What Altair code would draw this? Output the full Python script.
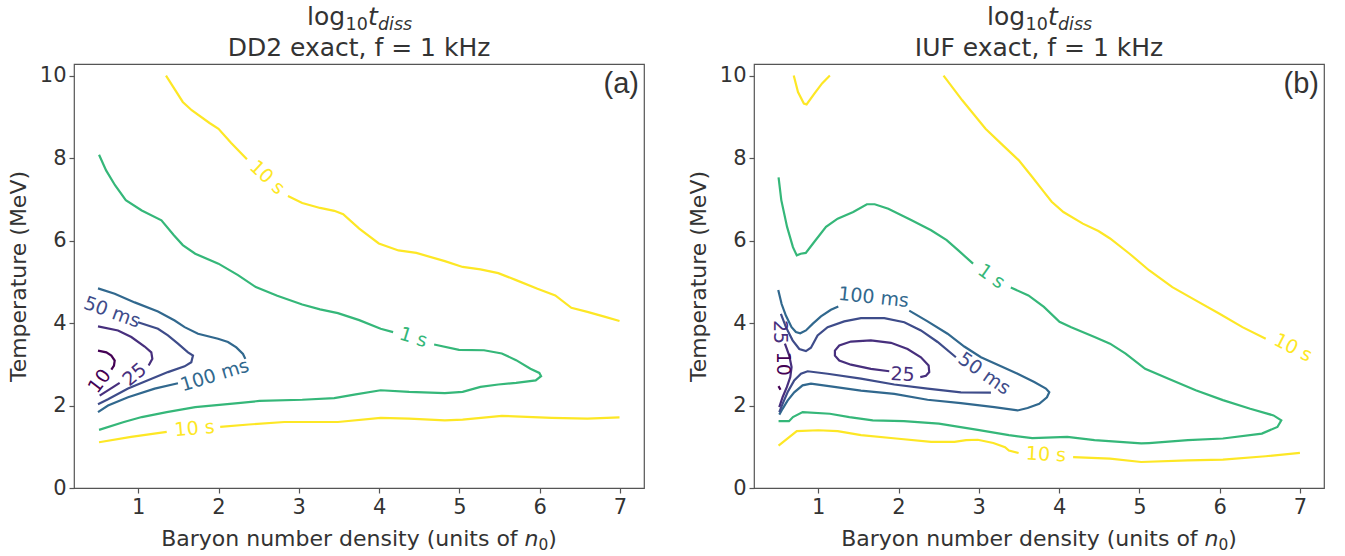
import altair as alt
import pandas as pd

# ---------------- data ----------------
# level name -> colour (viridis over log10 t from -2 to 1)
LEVEL_COLORS = {"10": "#440154", "25": "#472f7d", "50": "#3e4c8a",
                "100": "#31688e", "1s": "#35b779", "10s": "#fde725"}

# ---- panel (a): DD2 ----
a_10s_up1_x = [1.346, 1.555, 1.666, 1.888, 2.0, 2.155, 2.354]
a_10s_up1_y = [10.0, 9.36, 9.16, 8.85, 8.71, 8.37, 7.97]
a_10s_up2_x = [2.865, 3.043, 3.265, 3.442, 3.553, 3.753, 3.997, 4.242, 4.464, 4.819, 5.041,
               5.263, 5.485, 5.707, 5.973, 6.195, 6.395, 6.595, 6.817, 6.995]
a_10s_up2_y = [7.08, 6.91, 6.79, 6.72, 6.64, 6.29, 5.93, 5.76, 5.70, 5.50, 5.36,
               5.30, 5.21, 5.04, 4.83, 4.67, 4.37, 4.27, 4.15, 4.05]
a_1s_1_x = [0.512, 0.600, 0.711, 0.845, 1.044, 1.289, 1.444, 1.555, 1.710, 1.999, 2.243,
            2.465, 2.732, 3.043, 3.265, 3.487, 3.753, 4.020, 4.175]
a_1s_1_y = [8.08, 7.70, 7.34, 6.98, 6.73, 6.49, 6.13, 5.89, 5.68, 5.44, 5.16,
            4.87, 4.66, 4.45, 4.33, 4.24, 4.07, 3.86, 3.78]
a_1s_2_x = [4.686, 4.996, 5.307, 5.529, 5.707, 5.885, 5.996, 6.018, 5.951, 5.707, 5.485,
            5.263, 5.041, 4.819, 4.375, 4.020, 3.709, 3.442, 3.043, 2.510, 2.243, 1.710,
            1.355, 1.044, 0.822, 0.512]
a_1s_2_y = [3.48, 3.35, 3.34, 3.26, 3.10, 2.89, 2.79, 2.71, 2.61, 2.55, 2.51,
            2.45, 2.33, 2.30, 2.33, 2.37, 2.27, 2.18, 2.14, 2.11, 2.06, 1.96,
            1.84, 1.72, 1.60, 1.41]
a_10s_lo1_x = [0.512, 0.911, 1.355]
a_10s_lo1_y = [1.11, 1.24, 1.36]
a_10s_lo2_x = [2.021, 2.377, 2.821, 3.487, 4.020, 4.375, 4.819, 5.041, 5.529, 6.151, 6.595, 6.995]
a_10s_lo2_y = [1.48, 1.54, 1.60, 1.60, 1.70, 1.68, 1.64, 1.66, 1.75, 1.70, 1.68, 1.71]
a_100_1_x = [0.499, 0.707, 0.956, 1.246, 1.454, 1.578, 1.745, 1.994, 2.118, 2.222, 2.305, 2.334]
a_100_1_y = [4.84, 4.71, 4.50, 4.28, 4.06, 3.90, 3.74, 3.62, 3.54, 3.41, 3.25, 3.13]
a_100_2_x = [1.495, 1.205, 0.873, 0.624, 0.499]
a_100_2_y = [2.54, 2.41, 2.20, 2.00, 1.84]
a_50_x = [0.997, 1.246, 1.370, 1.495, 1.620, 1.682, 1.661, 1.578, 1.370, 1.121, 0.873, 0.624, 0.499]
a_50_y = [4.02, 3.86, 3.70, 3.50, 3.29, 3.21, 3.05, 2.95, 2.81, 2.61, 2.41, 2.15, 2.03]
a_25_1_x = [0.499, 0.748, 0.914, 1.080, 1.163, 1.176, 1.130]
a_25_1_y = [3.92, 3.82, 3.66, 3.43, 3.29, 3.13, 2.97]
a_25_2_x = [0.769, 0.520]
a_25_2_y = [2.55, 2.24]
a_10_x = [0.499, 0.603, 0.665, 0.707, 0.698, 0.665]
a_10_y = [3.33, 3.29, 3.21, 3.09, 2.97, 2.87]

a_label_text = ["10 s", "1 s", "10 s", "100 ms", "50 ms", "25", "10"]
a_label_level = ["10s", "1s", "10s", "100", "50", "25", "10"]
a_label_x = [2.607, 4.428, 1.702, 1.953, 0.673, 0.956, 0.520]
a_label_y = [7.53, 3.65, 1.44, 2.73, 4.26, 2.75, 2.59]
a_label_angle = [43, 17, -5, -17, 20, -40, -53]

# ---- panel (b): IUF ----
b_10s_v_x = [0.695, 0.748, 0.821, 0.855, 0.952, 1.048, 1.145]
b_10s_v_y = [10.0, 9.60, 9.32, 9.30, 9.56, 9.81, 10.0]
b_10s_up_x = [2.561, 2.794, 3.084, 3.278, 3.496, 3.666, 3.811, 3.908, 4.054, 4.296, 4.490,
              4.635, 4.878, 5.120, 5.411, 5.702, 5.993, 6.284, 6.574]
b_10s_up_y = [10.0, 9.40, 8.71, 8.35, 7.95, 7.54, 7.18, 6.94, 6.69, 6.41, 6.23,
              6.05, 5.68, 5.28, 4.87, 4.55, 4.23, 3.90, 3.62]
b_1s_1_x = [0.506, 0.540, 0.612, 0.685, 0.733, 0.782, 0.845, 0.952, 1.097, 1.242, 1.436,
            1.606, 1.703, 1.873, 2.163, 2.406, 2.600, 2.745, 2.929]
b_1s_1_y = [7.53, 6.98, 6.33, 5.84, 5.64, 5.68, 5.70, 5.97, 6.33, 6.53, 6.69,
            6.88, 6.88, 6.77, 6.49, 6.25, 6.01, 5.76, 5.44]
b_1s_2_x = [3.399, 3.618, 3.811, 4.005, 4.151, 4.442, 4.635, 4.829, 5.072, 5.363, 5.702,
            6.041, 6.381, 6.671, 6.768, 6.720, 6.526, 6.041, 5.605, 5.120, 5.023, 4.442,
            4.102, 3.666, 3.375, 2.987, 2.503, 2.066, 1.679, 1.388, 1.145, 0.806, 0.685,
            0.636, 0.506]
b_1s_2_y = [4.86, 4.67, 4.39, 4.03, 3.90, 3.66, 3.50, 3.26, 2.89, 2.65, 2.37,
            2.13, 1.92, 1.76, 1.64, 1.48, 1.32, 1.20, 1.16, 1.09, 1.08, 1.16,
            1.24, 1.21, 1.28, 1.41, 1.56, 1.62, 1.64, 1.72, 1.80, 1.84, 1.72,
            1.62, 1.62]
b_10s_lo1_x = [0.506, 0.733, 1.0, 1.242, 1.533, 1.969, 2.406, 2.697, 2.842, 2.987, 3.181,
               3.327, 3.375, 3.496]
b_10s_lo1_y = [1.03, 1.38, 1.40, 1.38, 1.28, 1.20, 1.12, 1.12, 1.16, 1.17, 1.09,
               0.99, 0.91, 0.85]
b_10s_lo2_x = [4.175, 4.635, 5.023, 5.605, 6.041, 6.574, 7.0]
b_10s_lo2_y = [0.75, 0.71, 0.63, 0.67, 0.69, 0.77, 0.85]
b_100_1_x = [0.502, 0.544, 0.597, 0.668, 0.722, 0.776, 0.847, 0.930, 1.034, 1.158, 1.250]
b_100_1_y = [4.80, 4.46, 4.18, 3.90, 3.78, 3.75, 3.82, 3.98, 4.16, 4.32, 4.40]
b_100_2_x = [2.134, 2.362, 2.611, 2.819, 3.027, 3.276, 3.483, 3.691, 3.836, 3.878, 3.849,
             3.753, 3.608, 3.483, 3.193, 2.777, 2.362, 1.947, 1.532, 1.200, 0.909, 0.805,
             0.701, 0.618, 0.556, 0.515]
b_100_2_y = [4.30, 4.04, 3.74, 3.43, 3.17, 2.95, 2.77, 2.57, 2.41, 2.32, 2.20,
             2.04, 1.94, 1.88, 1.96, 2.06, 2.14, 2.28, 2.36, 2.45, 2.53, 2.49,
             2.32, 2.12, 1.92, 1.78]
b_50_1_x = [0.535, 0.598, 0.681, 0.764, 0.847, 0.909, 0.992, 1.117, 1.324, 1.532, 1.823,
            2.072, 2.279, 2.487, 2.715]
b_50_1_y = [4.22, 3.90, 3.58, 3.37, 3.32, 3.40, 3.70, 3.90, 4.04, 4.12, 4.12,
            4.02, 3.82, 3.54, 3.17]
b_50_2_x = [3.151, 2.777, 2.362, 1.947, 1.532, 1.117, 0.868, 0.785, 0.701, 0.618, 0.556, 0.515]
b_50_2_y = [2.31, 2.32, 2.41, 2.51, 2.65, 2.77, 2.83, 2.77, 2.61, 2.32, 2.04, 1.84]
b_25_loop_x = [1.885, 1.656, 1.407, 1.262, 1.208, 1.208, 1.262, 1.407, 1.656, 1.906, 2.113,
               2.279, 2.375, 2.383, 2.342, 2.271]
b_25_loop_y = [2.83, 2.89, 2.99, 3.09, 3.21, 3.33, 3.455, 3.55, 3.58, 3.52, 3.37,
               3.17, 2.97, 2.81, 2.72, 2.69]
b_25_left_x = [0.585, 0.639, 0.668, 0.652, 0.610, 0.556, 0.515]
b_25_left_y = [3.50, 3.21, 2.93, 2.69, 2.45, 2.20, 1.96]
b_10_dash_x = [0.505, 0.530]
b_10_dash_y = [2.47, 2.38]

b_label_text = ["10 s", "1 s", "10 s", "100 ms", "50 ms", "25", "25", "10"]
b_label_level = ["10s", "1s", "10s", "100", "50", "25", "25", "10"]
b_label_x = [6.914, 3.157, 3.836, 1.690, 3.068, 2.051, 0.527, 0.556]
b_label_y = [3.40, 5.13, 0.81, 4.62, 2.77, 2.75, 3.78, 3.01]
b_label_angle = [27, 35, 3, 6, 35, 3, 90, 90]

x_ticks = [1, 2, 3, 4, 5, 6, 7]
y_ticks = [0, 2, 4, 6, 8, 10]
title_a = "DD2 exact, f = 1 kHz"
title_b = "IUF exact, f = 1 kHz"
panel_a_tag = "(a)"
panel_b_tag = "(b)"
y_title = "Temperature (MeV)"
x_title_main = "Baryon number density (units of"

segments_a = [
    ("10s", a_10s_up1_x, a_10s_up1_y), ("10s", a_10s_up2_x, a_10s_up2_y),
    ("1s", a_1s_1_x, a_1s_1_y), ("1s", a_1s_2_x, a_1s_2_y),
    ("10s", a_10s_lo1_x, a_10s_lo1_y), ("10s", a_10s_lo2_x, a_10s_lo2_y),
    ("100", a_100_1_x, a_100_1_y), ("100", a_100_2_x, a_100_2_y),
    ("50", a_50_x, a_50_y), ("25", a_25_1_x, a_25_1_y), ("25", a_25_2_x, a_25_2_y),
    ("10", a_10_x, a_10_y),
]
segments_b = [
    ("10s", b_10s_v_x, b_10s_v_y), ("10s", b_10s_up_x, b_10s_up_y),
    ("1s", b_1s_1_x, b_1s_1_y), ("1s", b_1s_2_x, b_1s_2_y),
    ("10s", b_10s_lo1_x, b_10s_lo1_y), ("10s", b_10s_lo2_x, b_10s_lo2_y),
    ("100", b_100_1_x, b_100_1_y), ("100", b_100_2_x, b_100_2_y),
    ("50", b_50_1_x, b_50_1_y), ("50", b_50_2_x, b_50_2_y),
    ("25", b_25_loop_x, b_25_loop_y), ("25", b_25_left_x, b_25_left_y),
    ("10", b_10_dash_x, b_10_dash_y),
]

# ---------------- chart construction ----------------
TXT = "#333333"
W, H = 570, 424
xscale = alt.Scale(domain=[0.2, 7.3], nice=False, zero=False)
yscale = alt.Scale(domain=[0, 10.28], nice=False, zero=False)
xaxis = alt.Axis(values=x_ticks, title=None, format="d")
yaxis = alt.Axis(values=y_ticks, title=y_title, format="d")


def seg_frame(segments):
    rows = []
    for i, (lvl, xs, ys) in enumerate(segments):
        for j, (xv, yv) in enumerate(zip(xs, ys)):
            rows.append({"x": xv, "y": yv, "seg": i, "ord": j, "color": LEVEL_COLORS[lvl]})
    return pd.DataFrame(rows)


def label_frame(texts, levels, xs, ys, angs):
    return pd.DataFrame({
        "x": xs, "y": ys, "t": texts,
        "color": [LEVEL_COLORS[l] for l in levels],
        "ang": [a % 360 for a in angs],
    })


def txt(s, x, y, size, italic=False, align="left", font="DejaVu Sans"):
    return alt.Chart(pd.DataFrame({"t": [s]})).mark_text(
        align=align, baseline="alphabetic", fontSize=size, font=font,
        fontStyle="italic" if italic else "normal", color=TXT,
    ).encode(text="t:N", x=alt.value(x), y=alt.value(y))


def panel(segments, labels, title, tag):
    lines = alt.Chart(seg_frame(segments)).mark_line(strokeWidth=2.2, clip=True).encode(
        x=alt.X("x:Q", scale=xscale, axis=xaxis),
        y=alt.Y("y:Q", scale=yscale, axis=yaxis),
        color=alt.Color("color:N", scale=None),
        detail="seg:N",
        order="ord:Q",
    )
    labs = alt.Chart(label_frame(*labels)).mark_text(
        font="DejaVu Sans", fontSize=19, align="center", baseline="middle"
    ).encode(
        x=alt.X("x:Q", scale=xscale, axis=xaxis),
        y=alt.Y("y:Q", scale=yscale, axis=yaxis),
        text="t:N",
        angle=alt.Angle("ang:Q", scale=None),
        color=alt.Color("color:N", scale=None),
    )
    cx = W / 2
    t0 = cx - 52
    texts = [
        txt("log", t0, -39, 25),
        txt("10", t0 + 38.5, -34, 17.5),
        txt("t", t0 + 61, -39, 25, italic=True),
        txt("diss", t0 + 71, -34, 17.5, italic=True),
        txt(title, cx, -8, 25, align="center"),
        txt(tag, W - 5, 29, 29, align="right", font="Liberation Sans"),
        # x axis title with italic n and subscript 0
        txt(x_title_main, cx + 158.6, H + 58, 22, align="right"),
        txt("n", cx + 165.6, H + 58, 22, italic=True),
        txt("0", cx + 179.5, H + 61.5, 15.4),
        txt(")", cx + 189.3, H + 58, 22),
    ]
    return alt.layer(lines, labs, *texts).properties(width=W, height=H)


pa = panel(segments_a, (a_label_text, a_label_level, a_label_x, a_label_y, a_label_angle),
           title_a, panel_a_tag)
pb = panel(segments_b, (b_label_text, b_label_level, b_label_x, b_label_y, b_label_angle),
           title_b, panel_b_tag)

chart = alt.hconcat(pa, pb, spacing=41).properties(
    padding={"left": 6, "top": 4, "right": 5, "bottom": 5}
).configure(font="DejaVu Sans").configure_view(
    stroke="#555555", strokeWidth=1.2
).configure_axis(
    domain=False, grid=False, ticks=True, tickSize=5, tickWidth=1.2, tickColor="#555555",
    labelFont="DejaVu Sans", labelFontSize=21, labelColor=TXT, labelPadding=3,
    titleFont="DejaVu Sans", titleFontSize=22, titleFontWeight="normal", titleColor=TXT,
    titlePadding=9,
)

chart.save("out.html", embed_options={"renderer": "svg", "actions": False})
